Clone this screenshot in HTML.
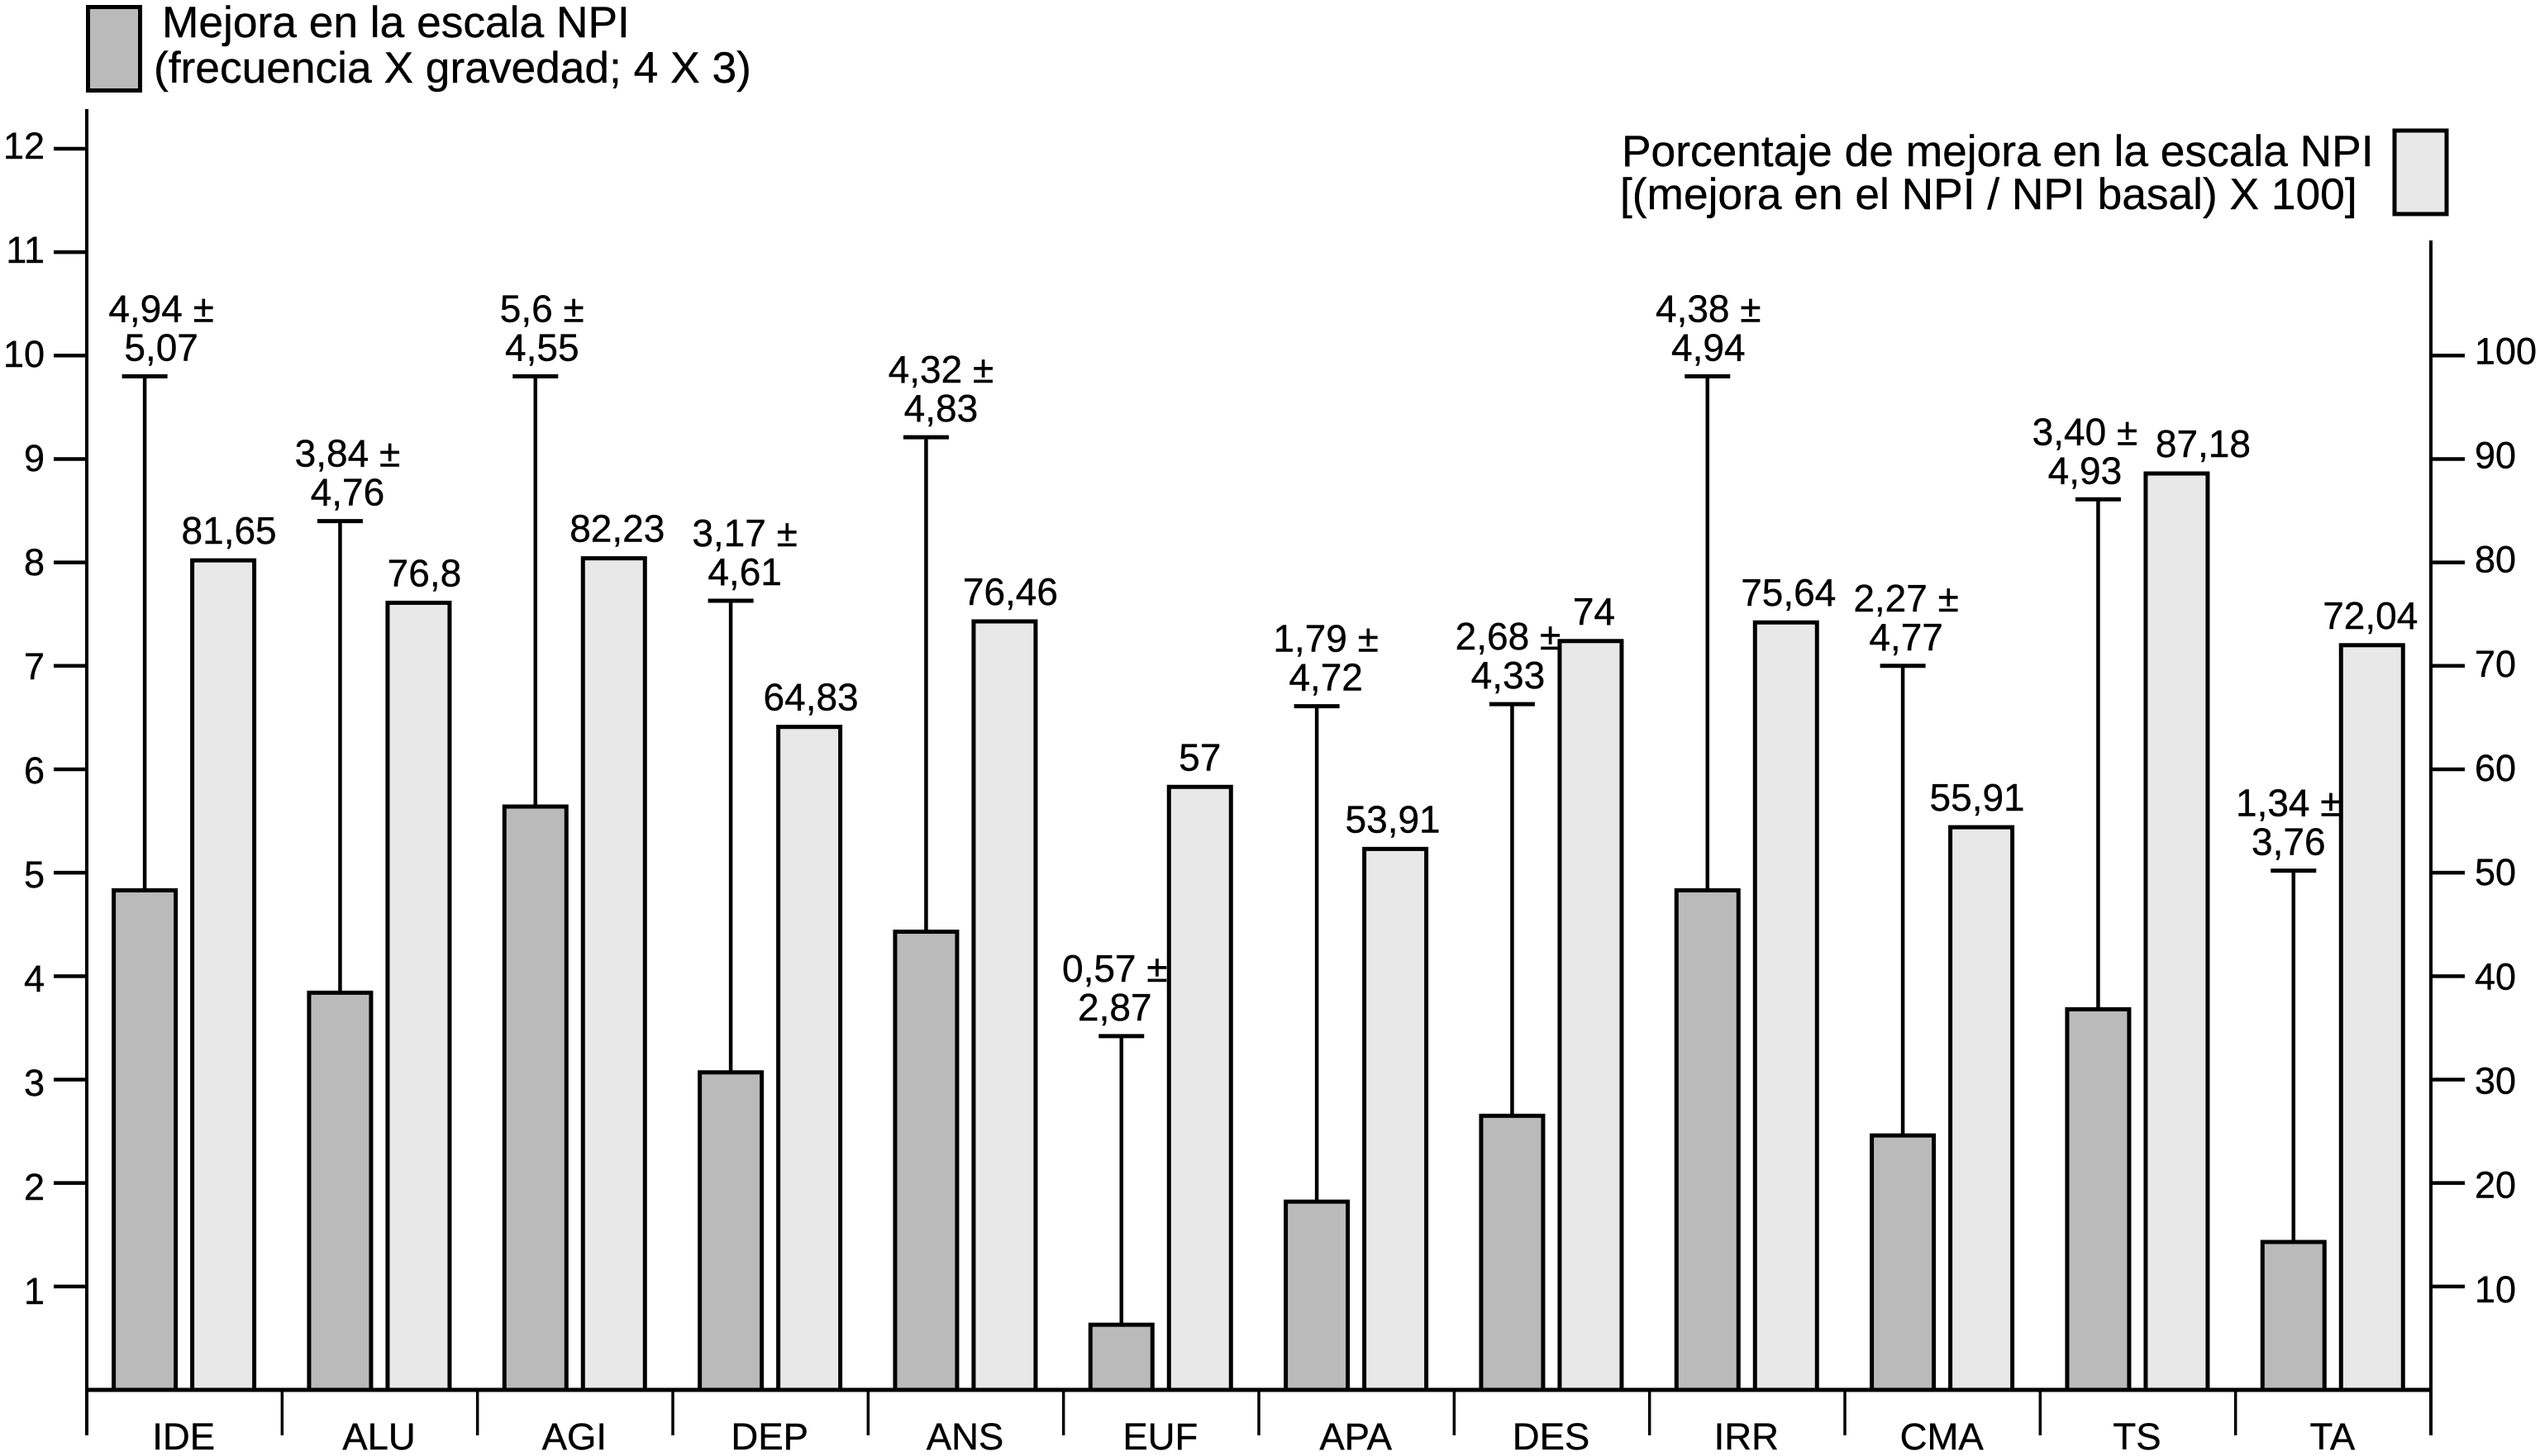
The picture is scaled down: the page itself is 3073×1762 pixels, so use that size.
<!DOCTYPE html>
<html lang="es">
<head>
<meta charset="utf-8">
<title>Mejora en la escala NPI</title>
<style>
html,body{margin:0;padding:0;background:#fff;}
svg{display:block;}
text{font-family:"Liberation Sans",Arial,sans-serif;fill:#000;stroke:#000;stroke-width:0.4;}
</style>
</head>
<body>
<svg id="chart" xmlns="http://www.w3.org/2000/svg" width="3073" height="1762" viewBox="0 0 3073 1762">
  <rect x="0" y="0" width="3073" height="1762" fill="#fff"/>
  <g>
    <rect x="106.5" y="8.5" width="63" height="101" fill="#bababa" stroke="#000" stroke-width="5"/>
    <text x="196" y="45" font-size="53.3">Mejora en la escala NPI</text>
    <text x="186" y="100" font-size="53.3">(frecuencia X gravedad; 4 X 3)</text>
  </g>
  <g>
    <rect x="2897" y="158" width="63" height="101" fill="#e8e8e8" stroke="#000" stroke-width="5"/>
    <text x="1962" y="201" font-size="53.3">Porcentaje de mejora en la escala NPI</text>
    <text x="1960" y="253" font-size="53.3">[(mejora en el NPI / NPI basal) X 100]</text>
  </g>
</svg>
<script>
const categories = ["IDE","ALU","AGI","DEP","ANS","EUF","APA","DES","IRR","CMA","TS","TA"];
const improvementValues = [4.83,3.84,5.64,3.07,4.43,0.63,1.82,2.65,4.83,2.46,3.68,1.43];
const errorTopValues = [9.80,8.40,9.80,7.63,9.21,3.42,6.61,6.63,9.80,7.00,8.61,5.02];
const percentValues = [80.2,76.1,80.4,64.1,74.3,58.3,52.3,72.4,74.2,54.4,88.6,72.0];
const meanLabels = ["4,94 ±","3,84 ±","5,6 ±","3,17 ±","4,32 ±","0,57 ±","1,79 ±","2,68 ±","4,38 ±","2,27 ±","3,40 ±","1,34 ±"];
const sdLabels = ["5,07","4,76","4,55","4,61","4,83","2,87","4,72","4,33","4,94","4,77","4,93","3,76"];
const percentLabels = ["81,65","76,8","82,23","64,83","76,46","57","53,91","74","75,64","55,91","87,18","72,04"];
const leftTicks = [1,2,3,4,5,6,7,8,9,10,11,12];
const rightTicks = [10,20,30,40,50,60,70,80,90,100];

const svg = document.getElementById('chart');
const NS = 'http://www.w3.org/2000/svg';
const axisLeftX = 105, axisRightX = 2941, baseY = 1682, unit = 125.17;
const band = (axisRightX - axisLeftX) / categories.length;
const darkOffset = 32.6, barW = 75, barGap = 20;

function yLeft(v){ return baseY - v * unit; }
function yRight(v){ return yLeft(v / 10); }
function bandStart(i){ return axisLeftX + i * band; }
function darkX(i){ return bandStart(i) + darkOffset; }
function lightX(i){ return darkX(i) + barW + barGap; }
function errX(i){ return darkX(i) + barW / 2; }

// Hand placement of the annotation text relative to its bar, as set in the source figure.
function meanLabelShift(i){ return [20,9,8,17,18,-8,11,-5,1,4,-16,-6][i]; }
function percentLabelShift(i){ return [7,7,4,2,7,0,-3,4,3,-5,32,-2][i]; }

function make(tag, parent){
  const el = document.createElementNS(NS, tag);
  (parent || svg).appendChild(el);
  return el;
}
function setAll(el, props){
  for (const k in props) el.setAttribute(k, props[k]);
}
function lineEl(parent, x1, y1, x2, y2, w){
  const el = make('line', parent);
  setAll(el, {x1:x1, y1:y1, x2:x2, y2:y2, stroke:'#000', 'stroke-width':w});
  return el;
}
function textEl(parent, x, y, size, anchor, str){
  const el = make('text', parent);
  setAll(el, {x:x, y:y, 'font-size':size, 'text-anchor':anchor});
  el.textContent = str;
  return el;
}

// Mean ± SD labels sit beneath the bars: the bars partly cover some of them.
const errorLabelLayer = make('g');


categories.forEach((c, i) => {
  const cx = errX(i) + meanLabelShift(i);
  const capY = yLeft(errorTopValues[i]);
  const mean = textEl(errorLabelLayer, cx, capY - 66, 46, 'middle', meanLabels[i]);
  
  
  const sd = textEl(errorLabelLayer, cx, capY - 19, 46, 'middle', sdLabels[i]);
  
  
});

const marks = make('g');


categories.forEach((c, i) => {
  const key = c.toLowerCase();

  const stem = lineEl(marks, errX(i), yLeft(errorTopValues[i]), errX(i), yLeft(improvementValues[i]), 4.5);
  
  

  const cap = lineEl(marks, errX(i) - 27.5, yLeft(errorTopValues[i]), errX(i) + 27.5, yLeft(errorTopValues[i]), 5);
  
  

  const dark = make('rect', marks);
  setAll(dark, {x:darkX(i), y:yLeft(improvementValues[i]), width:barW, height:baseY - yLeft(improvementValues[i]), fill:'#bababa', stroke:'#000', 'stroke-width':5});
  
  

  const light = make('rect', marks);
  setAll(light, {x:lightX(i), y:yRight(percentValues[i]), width:barW, height:baseY - yRight(percentValues[i]), fill:'#e8e8e8', stroke:'#000', 'stroke-width':5});
  
  

  const pct = textEl(marks, lightX(i) + barW / 2 + percentLabelShift(i), yRight(percentValues[i]) - 20, 46, 'middle', percentLabels[i]);
  
  
});

const axes = make('g');



const leftAxis = lineEl(axes, axisLeftX, 132, axisLeftX, 1737, 4);



const rightAxis = lineEl(axes, axisRightX, 291, axisRightX, 1737, 4);



const baseline = lineEl(axes, axisLeftX, baseY, axisRightX, baseY, 5);



leftTicks.forEach(v => {
  const t = lineEl(axes, 65, yLeft(v), axisLeftX, yLeft(v), 4.5);
  
  
  const l = textEl(axes, 54, yLeft(v) + 21 - (v - 1) * 0.83, 45, 'end', String(v));
  
  
});

rightTicks.forEach(v => {
  const t = lineEl(axes, axisRightX, yRight(v), 2982, yRight(v), 4.5);
  
  
  const l = textEl(axes, 2994, yRight(v) + 19 - (v / 10 - 1), 45, 'start', String(v));
  
  
});

for (let i = 1; i < categories.length; i++) {
  const s = lineEl(axes, bandStart(i), baseY + 2, bandStart(i), 1737, 3.5);
  
  
}

categories.forEach((c, i) => {
  const l = textEl(axes, bandStart(i) + band / 2 - 1, 1754, 45.5, 'middle', c);
  
  
});
</script>
</body>
</html>
